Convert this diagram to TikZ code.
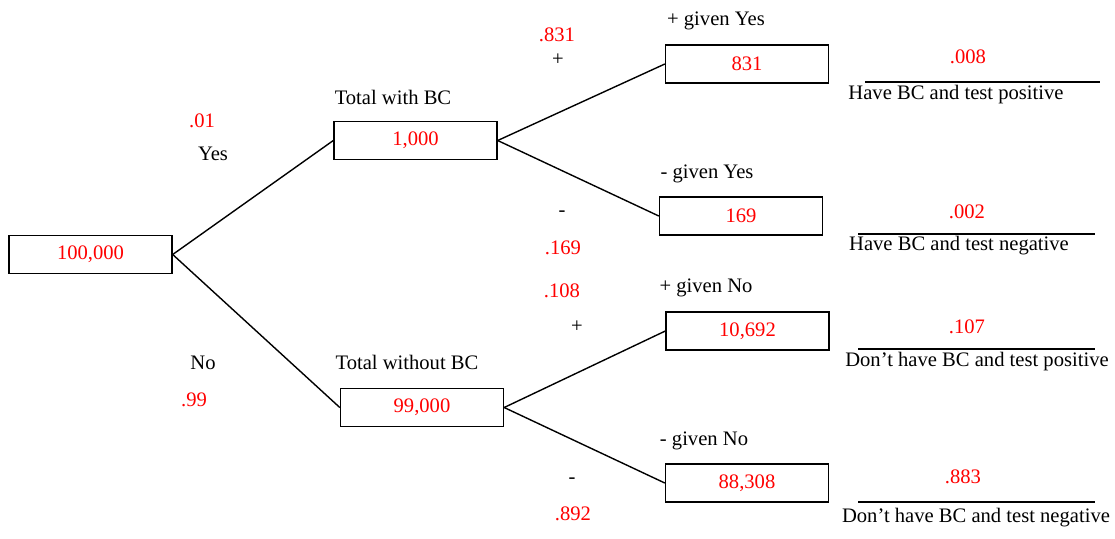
\documentclass[tikz,border=0pt]{standalone}
\usepackage{fontspec}
\setmainfont{Liberation Serif}

\begin{document}
\begin{tikzpicture}[
  x=0.5pt, y=-0.5pt,
  every node/.style = {font=\fontsize{10.3}{12}\selectfont, inner sep=0pt},
  box/.style = {draw, line width=0.7pt, minimum width=81.5pt, minimum height=19pt, text=red},
  prob/.style = {text=red},
  branch/.style = {line width=0.7pt}
]
  \useasboundingbox (0,0) rectangle (1115,538);

  % the boxes
  \node[box] (all) at (90.5,254.5) {100,000};
  \node[box] (bc)  at (415.5,140.5) {1,000};
  \node[box] (nbc) at (422,407.5) {99,000};
  \node[box] (yp)  at (747,64) {831};
  \node[box] (yn)  at (741,216) {169};
  \node[box] (np)  at (747.5,331) {10,692};
  \node[box] (nn)  at (747,483) {88,308};

  \draw[branch] (all.east) -- (bc.west);
  \draw[branch] (all.east) -- (nbc.west);
  \draw[branch] (bc.east) -- (yp.west);
  \draw[branch] (bc.east) -- (yn.west);
  \draw[branch] (nbc.east) -- (np.west);
  \draw[branch] (nbc.east) -- (nn.west);

  % labels on the tree
  \node (tbc)  at (393,97)  {Total with BC};
  \node (tnbc) at (407,362) {Total without BC};
  \node[prob] (pyes) at (202,121) {.01};
  \node (yes) at (213,154) {Yes};
  \node (no)  at (203,363) {No};
  \node[prob] (pno) at (194,400) {.99};

  \node[prob] (pyp) at (557,35) {.831};
  \node (syp) at (558,60) {+};
  \node (gyp) at (716,21) {+ given Yes};
  \node (gyn) at (707,174) {- given Yes};
  \node (syn) at (562,214) {-};
  \node[prob] (pyn) at (563,248) {.169};

  \node[prob] (pnp) at (562,291) {.108};
  \node (snp) at (577,327) {+};
  \node (gnp) at (706,288) {+ given No};
  \node (gnn) at (704,441) {- given No};
  \node (snn) at (572,481) {-};
  \node[prob] (pnn) at (573,514) {.892};

  % outcomes
  \coordinate (a1) at (865,82);  \coordinate (a2) at (1100,82);
  \coordinate (b1) at (858,234); \coordinate (b2) at (1095,234);
  \coordinate (c1) at (858,349); \coordinate (c2) at (1095,349);
  \coordinate (d1) at (858,502); \coordinate (d2) at (1095,502);
  \draw[branch] (a1) -- (a2);
  \draw[branch] (b1) -- (b2);
  \draw[branch] (c1) -- (c2);
  \draw[branch] (d1) -- (d2);

  \node[prob] (ra) at (968,57)  {.008};
  \node (la) at (956,95)  {Have BC and test positive};
  \node[prob] (rb) at (967,212) {.002};
  \node (lb) at (959,246) {Have BC and test negative};
  \node[prob] (rc) at (967,327) {.107};
  \node (lc) at (977,362) {Don’t have BC and test positive};
  \node[prob] (rd) at (963,477) {.883};
  \node (ld) at (976,518) {Don’t have BC and test negative};
\end{tikzpicture}
\end{document}
